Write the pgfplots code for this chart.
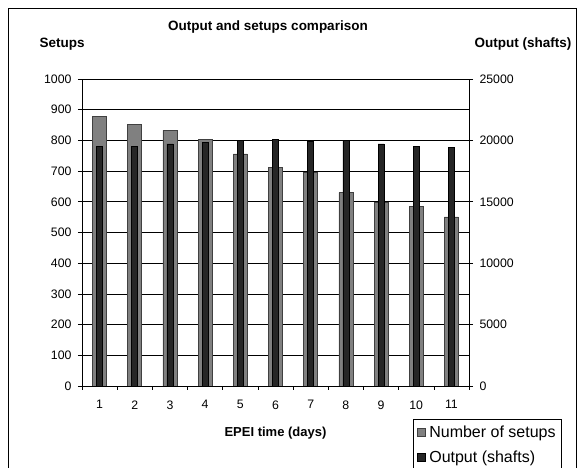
\documentclass[border=0pt]{standalone}
\usepackage{fontspec}
\setmainfont{Liberation Sans}
\usepackage{pgfplots}
\pgfplotsset{compat=1.18}
\definecolor{setupgray}{HTML}{808080}
\definecolor{outdark}{HTML}{262626}

\begin{document}
\begin{tikzpicture}[x=1pt,y=1pt]
\useasboundingbox (0,0) rectangle (581,468);
\fill[white] (0,0) rectangle (581,468);
\draw[black, line width=0.8pt] (8,-10) rectangle (576,460);

\pgfplotsset{
  common/.style={
    scale only axis, width=387pt, height=307pt,
    at={(82pt,82pt)}, anchor=south west,
    xmin=0.5, xmax=11.5, ymin=0,
    tick align=outside,
    major tick length=4pt,
    tick style={black, line width=0.6pt},
    axis line style={black, line width=0.6pt},
    tick label style={font=\fontsize{12.3}{14}\selectfont},
    /pgf/number format/assume math mode=true,
    /pgf/number format/set thousands separator={},
    scaled y ticks=false,
  }
}

% left axis: number of setups
\begin{axis}[common,
  ymax=1000, ytick={0,100,...,1000},
  yticklabel style={xshift=-3pt},
  ymajorgrids, grid style={black, line width=0.6pt},
  axis x line*=bottom, axis y line*=left,
  xtick={0.5,1.5,...,11.5}, xticklabels={},
  extra x ticks={1,2,3,4,5,6,7,8,9,10,11},
  extra x tick style={major tick length=0pt, grid=none,
    xticklabel style={yshift=-11pt}},
  xlabel={\bfseries EPEI time (days)},
  xlabel style={font=\fontsize{13}{15}\selectfont, at={(axis description cs:0.5,0)}, anchor=center, yshift=-47pt},
  ybar, bar width=14pt,
]
\addplot[fill=setupgray, draw=black!75, line width=0.6pt] coordinates {
  (1,877) (2,852) (3,833) (4,804) (5,756) (6,711) (7,696) (8,630) (9,598) (10,584) (11,551)};
\end{axis}

% right axis: output (shafts)
\begin{axis}[common,
  ymax=25000, ytick={0,5000,...,25000},
  yticklabel style={xshift=3pt},
  axis x line=none, axis y line*=right,
  ybar, bar width=6pt,
  legend style={at={(rel axis cs:1.24,-0.108)}, anchor=north east,
    draw=black, line width=0.6pt, font=\fontsize{16}{18}\selectfont,
    row sep=8pt, inner xsep=4pt, inner ysep=4pt},
  legend cell align=left,
  legend image code/.code={\draw[#1, line width=0.5pt] (0pt,-4pt) rectangle (8pt,4pt);},
]
\addlegendimage{fill=setupgray, draw=black!75}
\addlegendentry{\hspace{2pt}Number of setups}
\addplot[fill=outdark, draw=black, line width=0.6pt] coordinates {
  (1,19490) (2,19490) (3,19710) (4,19810) (5,20000) (6,20100) (7,19890) (8,20030) (9,19710) (10,19520) (11,19400)};
\addlegendentry{\hspace{2pt}Output (shafts)}
\end{axis}

\node[font=\bfseries\fontsize{13.5}{15}\selectfont] at (268,441) {Output and setups comparison};
\node[font=\bfseries\fontsize{13.5}{15}\selectfont, anchor=west] at (36,424) {Setups};
\node[font=\bfseries\fontsize{13.5}{15}\selectfont, anchor=east] at (575,424) {Output (shafts)};
\end{tikzpicture}
\end{document}
